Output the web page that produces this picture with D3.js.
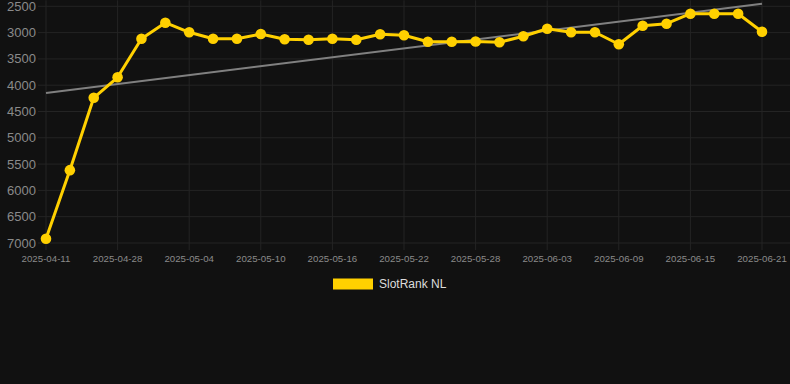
<!DOCTYPE html>
<html>
<head>
<meta charset="utf-8">
<script src="https://cdn.jsdelivr.net/npm/d3@7"></script>
<style>
    body { margin: 0; background: #111111; }
    #wrapper svg { display: block; font-family: "Liberation Sans", Arial, sans-serif; }
    .grid line { stroke: #242424; stroke-width: 1; }
    .y-tick { fill: #8a8a8a; font-size: 13px; }
    .x-tick { fill: #8a8a8a; font-size: 9.7px; }
    .legend-label { fill: #dddddd; font-size: 12px; }
</style>
</head>
<body>
<div id="wrapper"></div>
<script>
// 1. Data

const dates = [
    "2025-04-11", "2025-04-16", "2025-04-22", "2025-04-28", "2025-04-30",
    "2025-05-02", "2025-05-04", "2025-05-06", "2025-05-08", "2025-05-10",
    "2025-05-12", "2025-05-14", "2025-05-16", "2025-05-18", "2025-05-20",
    "2025-05-22", "2025-05-24", "2025-05-26", "2025-05-28", "2025-05-30",
    "2025-06-01", "2025-06-03", "2025-06-05", "2025-06-07", "2025-06-09",
    "2025-06-11", "2025-06-13", "2025-06-15", "2025-06-17", "2025-06-19",
    "2025-06-21",
]

const ranks = [
    6920, 5615, 4240, 3850, 3116,
    2812, 2994, 3116, 3116, 3027,
    3127, 3135, 3116, 3135, 3032,
    3051, 3173, 3173, 3170, 3184,
    3070, 2926, 2994, 2994, 3222,
    2869, 2831, 2641, 2641, 2641,
    2983,
]

// trend line: value at first and last date
const trendValues = [4150, 2450]

const yTicks = [2500, 3000, 3500, 4000, 4500, 5000, 5500, 6000, 6500, 7000]
const seriesName = "SlotRank NL"

// 2. Dimensions

const width = 790
const height = 384
const plot = { left: 46, right: 762, top: 6.3, bottom: 243 }

// 3. Canvas

const svg = d3.select("#wrapper")
    .append("svg")
    .attr("width", width)
    .attr("height", height)

// 4. Scales

const xScale = d3.scalePoint()
    .domain(dates)
    .range([plot.left, plot.right])

const yScale = d3.scaleLinear()
    .domain([2500, 7000])
    .range([plot.top, plot.bottom])

const shownDates = dates.filter((d, i) => i % 3 === 0)

// 5. Grid + axes

const grid = svg.append("g").attr("class", "grid")

grid.selectAll(".h")
    .data(yTicks)
    .join("line")
    .attr("x1", plot.left - 8)
    .attr("x2", width)
    .attr("y1", d => yScale(d))
    .attr("y2", d => yScale(d))

grid.selectAll(".v")
    .data(shownDates)
    .join("line")
    .attr("x1", d => xScale(d))
    .attr("x2", d => xScale(d))
    .attr("y1", plot.top - 6)
    .attr("y2", plot.bottom + 7)

svg.append("g")
    .selectAll("text")
    .data(yTicks)
    .join("text")
    .attr("class", "y-tick")
    .attr("x", 36)
    .attr("y", d => yScale(d))
    .attr("dy", "0.35em")
    .attr("text-anchor", "end")
    .text(d => d)

svg.append("g")
    .selectAll("text")
    .data(shownDates)
    .join("text")
    .attr("class", "x-tick")
    .attr("x", d => xScale(d))
    .attr("y", 262)
    .attr("text-anchor", "middle")
    .text(d => d)

// 6. Trend line

svg.append("line")
    .attr("x1", xScale(dates[0]))
    .attr("y1", yScale(trendValues[0]))
    .attr("x2", xScale(dates[dates.length - 1]))
    .attr("y2", yScale(trendValues[1]))
    .attr("stroke", "#808080")
    .attr("stroke-width", 2)

// 7. Series

const lineGenerator = d3.line()
    .x((d, i) => xScale(dates[i]))
    .y(d => yScale(d))

svg.append("path")
    .attr("d", lineGenerator(ranks))
    .attr("fill", "none")
    .attr("stroke", "#ffd000")
    .attr("stroke-width", 3)
    .attr("stroke-linejoin", "round")

svg.append("g")
    .selectAll("circle")
    .data(ranks)
    .join("circle")
    .attr("cx", (d, i) => xScale(dates[i]))
    .attr("cy", d => yScale(d))
    .attr("r", 5.3)
    .attr("fill", "#ffd000")

// 8. Legend

const legend = svg.append("g")
    .attr("transform", "translate(333, 278.5)")

legend.append("rect")
    .attr("width", 40)
    .attr("height", 11)
    .attr("fill", "#ffd000")

legend.append("text")
    .attr("class", "legend-label")
    .attr("x", 46)
    .attr("y", 5.5)
    .attr("dy", "0.35em")
    .text(seriesName)
</script>
</body>
</html>
